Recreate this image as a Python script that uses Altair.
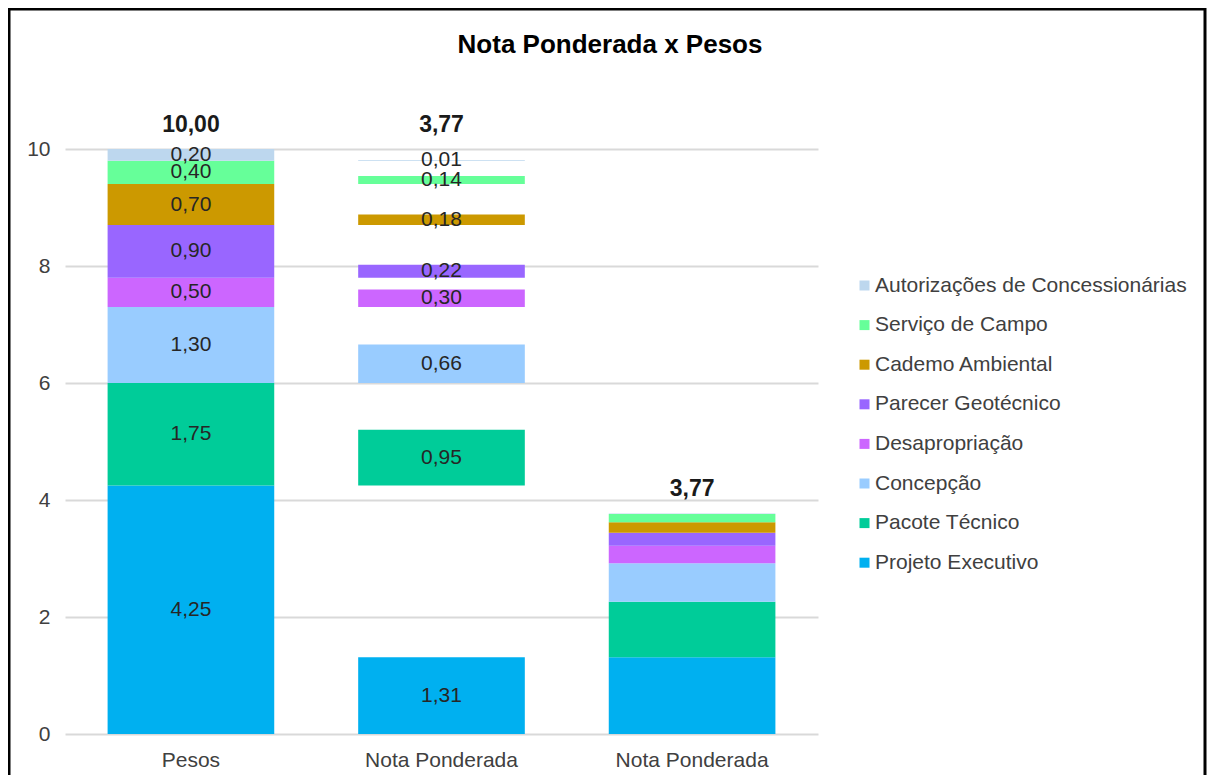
import altair as alt
import pandas as pd

# ---- data -------------------------------------------------------------
series = ["Projeto Executivo", "Pacote Técnico", "Concepção", "Desapropriação",
          "Parecer Geotécnico", "Cademo Ambiental", "Serviço de Campo",
          "Autorizações de Concessionárias"]
colors = ["#00B0F0", "#00CC99", "#99CCFF", "#CC66FF",
          "#9966FF", "#CC9900", "#66FF99", "#BDD7EE"]
pesos = [4.25, 1.75, 1.30, 0.50, 0.90, 0.70, 0.40, 0.20]
notas = [1.31, 0.95, 0.66, 0.30, 0.22, 0.18, 0.14, 0.01]
x_keys = ["c0", "c1", "c2"]
x_labels = ["Pesos", "Nota Ponderada", "Nota Ponderada"]
y_ticks = [0, 2, 4, 6, 8, 10]
chart_title = "Nota Ponderada x Pesos"

FONT = "Liberation Sans"
FS = 21


def fmt(v):
    return f"{v:.2f}".replace(".", ",")


# ---- build tables -----------------------------------------------------
rows = []
cum_p = 0.0
cum_n = 0.0
for s, p, n in zip(series, pesos, notas):
    rows.append(dict(col="c0", serie=s, y0=cum_p, y1=cum_p + p, lab=fmt(p), show=True))
    rows.append(dict(col="c1", serie=s, y0=cum_p, y1=cum_p + n, lab=fmt(n), show=True))
    rows.append(dict(col="c2", serie=s, y0=cum_n, y1=cum_n + n, lab=fmt(n), show=False))
    cum_p += p
    cum_n += n
df = pd.DataFrame(rows)
df["mid"] = (df["y0"] + df["y1"]) / 2

tot = pd.DataFrame({
    "col": x_keys,
    "top": [sum(pesos), sum(pesos), sum(notas)],
    "lab": [fmt(sum(pesos)), fmt(sum(notas)), fmt(sum(notas))],
})

# ---- encodings ---------------------------------------------------------
label_expr = ("[" + ",".join(f"'{l}'" for l in x_labels) + "][indexof(["
              + ",".join(f"'{k}'" for k in x_keys) + "], datum.value)]")

x_enc = alt.X("col:N",
              scale=alt.Scale(domain=x_keys, paddingInner=0.335, paddingOuter=0.17),
              axis=alt.Axis(title=None, labelExpr=label_expr, labelAngle=0,
                            labelFontSize=FS, labelFont=FONT, labelColor="#404040",
                            labelPadding=15, ticks=False, domain=False, grid=False))
y_scale = alt.Scale(domain=[0, 10], nice=False)

bars = alt.Chart(df).mark_bar().encode(
    x=x_enc,
    y=alt.Y("y0:Q", scale=y_scale,
            axis=alt.Axis(title=None, values=y_ticks, format="d", labelFontSize=FS,
                          labelFont=FONT, labelColor="#404040", labelPadding=15,
                          ticks=False, domain=False,
                          gridColor="#D9D9D9", gridWidth=2)),
    y2="y1:Q",
    color=alt.Color("serie:N",
                    scale=alt.Scale(domain=series[::-1], range=colors[::-1]),
                    legend=alt.Legend(title=None, orient="none", legendX=789, legendY=126,
                                      labelFontSize=FS, labelFont=FONT, labelColor="#404040",
                                      labelLimit=0,
                                      symbolType="square", symbolSize=100, symbolStrokeWidth=0,
                                      rowPadding=17.6, labelOffset=0, padding=0)),
)

seg_labels = alt.Chart(df).transform_filter("datum.show").mark_text(
    font=FONT, fontSize=FS, color="#262626", baseline="middle"
).encode(x=alt.X("col:N"), y=alt.Y("mid:Q"), text="lab:N")

tot_labels = alt.Chart(tot).mark_text(
    font=FONT, fontSize=23, fontWeight="bold", color="#1a1a1a", baseline="middle", dy=-24
).encode(x=alt.X("col:N"), y=alt.Y("top:Q"), text="lab:N")

title_mark = alt.Chart(pd.DataFrame({"t": [chart_title]})).mark_text(
    font=FONT, fontSize=26, fontWeight="bold", color="#000000", baseline="middle"
).encode(x=alt.value(545), y=alt.value(-104), text="t:N")

frame = alt.Chart(pd.DataFrame({"a": [0]})).mark_rect(
    fill=None, stroke="#000000", strokeWidth=3
).encode(x=alt.value(-56), x2=alt.value(1140), y=alt.value(-140), y2=alt.value(700))

chart = alt.layer(frame, bars, seg_labels, tot_labels, title_mark).properties(
    width=753, height=585,
    autosize=alt.AutoSizeParams(type="none"),
    padding={"left": 57, "top": 141, "right": 390, "bottom": 41},
).configure_view(stroke=None)

chart.save("out.html", embed_options={"renderer": "svg", "actions": False})
